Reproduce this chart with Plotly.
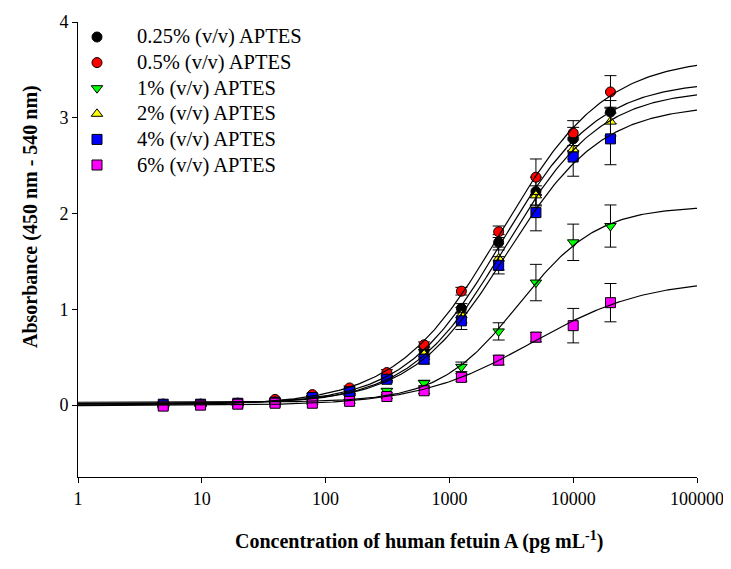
import numpy as np
import plotly.graph_objects as go

# ---- data ----
conc = [4.88, 9.77, 19.53, 39.06, 78.13, 156.25, 312.5, 625, 1250, 2500, 5000, 10000, 20000]

series_names = ["0.25% (v/v) APTES", "0.5% (v/v) APTES", "1% (v/v) APTES",
                "2% (v/v) APTES", "4% (v/v) APTES", "6% (v/v) APTES"]

abs_025 = [0.01, 0.01, 0.02, 0.04, 0.09, 0.16, 0.31, 0.57, 1.01, 1.70, 2.23, 2.78, 3.06]
abs_05 = [0.01, 0.01, 0.02, 0.06, 0.11, 0.18, 0.34, 0.63, 1.19, 1.81, 2.38, 2.84, 3.27]
abs_1 = [0.00, 0.01, 0.01, 0.03, 0.05, 0.08, 0.15, 0.23, 0.40, 0.77, 1.28, 1.70, 1.87]
abs_2 = [0.01, 0.01, 0.02, 0.04, 0.08, 0.14, 0.28, 0.53, 0.94, 1.53, 2.19, 2.67, 2.96]
abs_4 = [0.01, 0.01, 0.02, 0.03, 0.08, 0.14, 0.27, 0.48, 0.88, 1.46, 2.01, 2.59, 2.78]
abs_6 = [-0.01, 0.00, 0.01, 0.02, 0.02, 0.04, 0.09, 0.15, 0.29, 0.47, 0.71, 0.83, 1.07]

err_025 = [0.01, 0.01, 0.01, 0.01, 0.01, 0.02, 0.02, 0.04, 0.05, 0.08, 0.15, 0.12, 0.12]
err_05 = [0.01, 0.01, 0.01, 0.01, 0.01, 0.02, 0.03, 0.03, 0.04, 0.06, 0.19, 0.13, 0.17]
err_1 = [0.01, 0.01, 0.01, 0.01, 0.01, 0.02, 0.02, 0.03, 0.05, 0.09, 0.19, 0.19, 0.22]
err_2 = [0.01, 0.01, 0.01, 0.01, 0.01, 0.02, 0.03, 0.05, 0.08, 0.12, 0.10, 0.10, 0.15]
err_4 = [0.01, 0.01, 0.01, 0.01, 0.01, 0.02, 0.03, 0.05, 0.09, 0.09, 0.19, 0.20, 0.27]
err_6 = [0.01, 0.01, 0.01, 0.01, 0.01, 0.02, 0.02, 0.03, 0.04, 0.05, 0.05, 0.18, 0.20]

x_ticks = [1, 10, 100, 1000, 10000, 100000]
y_ticks = [0, 1, 2, 3, 4]

values = [abs_025, abs_05, abs_1, abs_2, abs_4, abs_6]
errors = [err_025, err_05, err_1, err_2, err_4, err_6]
colors = ["black", "red", "#00ff00", "yellow", "blue", "magenta"]
symbols = ["circle", "circle", "triangle-down", "triangle-up", "square", "square"]


def fit_4pl(x, y):
    """Four-parameter logistic fit: grid over (EC50, slope), linear LS for (bottom, top)."""
    x = np.asarray(x, float)
    y = np.asarray(y, float)
    best = None
    for lc in np.arange(2.5, 5.0, 0.01):
        c = 10 ** lc
        for b in np.arange(0.5, 2.5, 0.01):
            g = 1.0 / (1.0 + (x / c) ** b)
            A = np.column_stack([g, 1 - g])
            coef, *_ = np.linalg.lstsq(A, y, rcond=None)
            r = np.sum((A @ coef - y) ** 2)
            if best is None or r < best[0]:
                best = (r, coef[0], coef[1], c, b)
    _, a, d, c, b = best
    return lambda xx: d + (a - d) / (1.0 + (xx / c) ** b)


# ---- geometry (figure pixels; the page body adds an 8 px offset) ----
FIG_W, FIG_H = 715, 553
PL, PR, PT, PB = 70, 689, 14, 469          # plot area edges in figure pixels
OFF = 8
MSIZE = 10


def px_x(page_x):
    return (page_x - OFF - PL) / (PR - PL)


def px_y(page_y):
    return (PB - (page_y - OFF)) / (PB - PT)


fig = go.Figure()
serif = "Liberation Serif, Times New Roman, serif"

for name, v, e, col, sym in zip(series_names, values, errors, colors, symbols):
    fig.add_trace(go.Scatter(
        x=conc, y=v, name=name, mode="markers", showlegend=False,
        marker=dict(symbol=sym, size=MSIZE, color=col, line=dict(color="black", width=1)),
        error_y=dict(type="data", array=e, visible=True, color="black", thickness=1, width=6),
    ))

xfit = np.logspace(0, 5, 300)
for name, v in zip(series_names, values):
    f = fit_4pl(conc, v)
    fig.add_trace(go.Scatter(
        x=xfit, y=f(xfit), mode="lines", showlegend=False,
        line=dict(color="black", width=1.2), hoverinfo="skip",
    ))

# ---- legend (drawn manually to match the reference spacing) ----
leg_rows = [37 + 25.6 * i for i in range(len(series_names))]
fig.add_trace(go.Scatter(
    x=[px_x(97)] * len(series_names), y=[px_y(r) for r in leg_rows],
    xaxis="x2", yaxis="y2", mode="markers", showlegend=False, hoverinfo="skip",
    marker=dict(symbol=symbols, size=MSIZE, color=colors, line=dict(color="black", width=1)),
))

annotations = []
for name, r in zip(series_names, leg_rows):
    annotations.append(dict(text=name, xref="paper", yref="paper", x=px_x(135), y=px_y(r),
                            xanchor="left", yanchor="middle", showarrow=False,
                            font=dict(size=20.5, family=serif, color="black")))

annotations.append(dict(text="<b>Concentration of human fetuin A (pg mL<sup>-1</sup>)</b>",
                        xref="paper", yref="paper", x=px_x(419), y=px_y(540),
                        xanchor="center", yanchor="middle", showarrow=False,
                        font=dict(size=20, family=serif, color="black")))
annotations.append(dict(text="<b>Absorbance (450 nm - 540 nm)</b>", textangle=-90,
                        xref="paper", yref="paper", x=px_x(30), y=px_y(217),
                        xanchor="center", yanchor="middle", showarrow=False,
                        font=dict(size=20, family=serif, color="black")))

fig.update_layout(
    width=FIG_W, height=FIG_H,
    margin=dict(l=PL, r=FIG_W - PR, t=PT, b=FIG_H - PB, autoexpand=False),
    paper_bgcolor="white", plot_bgcolor="white",
    font=dict(family=serif, size=18, color="black"),
    showlegend=False,
    xaxis=dict(type="log", range=[0, 5], tickvals=x_ticks,
               ticktext=[str(t) for t in x_ticks],
               showgrid=False, zeroline=False, showline=True, linecolor="black",
               linewidth=1, ticks="outside", ticklen=5, tickcolor="black",
               tickfont=dict(size=18, family=serif), automargin=False,
               ticklabeloverflow="allow"),
    yaxis=dict(range=[-0.75, 4], tickvals=y_ticks, showgrid=False, zeroline=False,
               showline=True, linecolor="black", linewidth=1, ticks="outside",
               ticklen=5, tickcolor="black", tickfont=dict(size=18, family=serif),
               automargin=False, ticklabeloverflow="allow"),
    xaxis2=dict(overlaying="x", range=[0, 1], visible=False, anchor="y2"),
    yaxis2=dict(overlaying="y", range=[0, 1], visible=False, anchor="x2"),
    annotations=annotations,
)

fig.write_html("out.html")
